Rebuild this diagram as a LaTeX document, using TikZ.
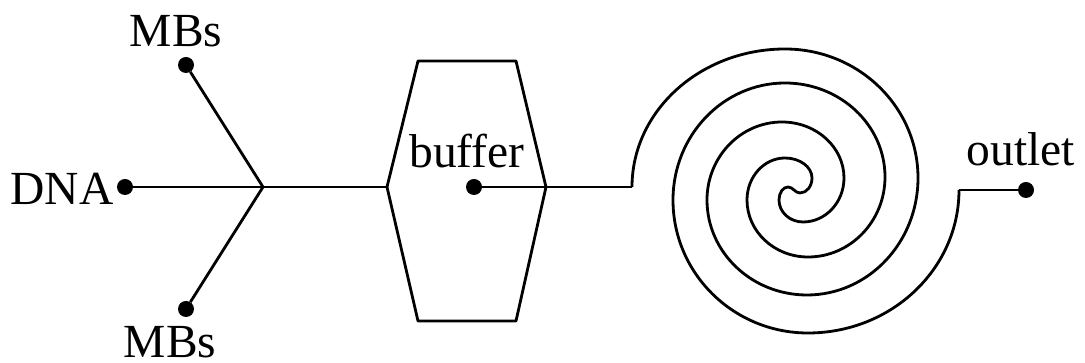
\documentclass[tikz,border=0pt]{standalone}
\usepackage{fontspec}
\setmainfont{Liberation Serif}
\tikzset{
  px/.style={x=1pt,y=1pt},
  wire/.style={line width=2.8pt,black,line join=round},
  port/.style={circle,fill=black,inner sep=0pt,minimum size=16pt},
  lab/.style={anchor=base,inner sep=0pt,font=\fontsize{47.5pt}{50pt}\selectfont},
}
\begin{document}
\begin{tikzpicture}[px]
\useasboundingbox (0,0) rectangle (1085,363);
% junction and ports
\node[port] (mbt) at (186,363-65) {};
\node[port] (dna) at (125,363-187) {};
\node[port] (mbb) at (186,363-309) {};
\node[port] (buf) at (474,363-187) {};
\node[port] (out) at (1026,363-190) {};
\coordinate (j) at (263,363-187);
\coordinate (hl) at (387,363-187);
\coordinate (htl) at (418,363-61);
\coordinate (htr) at (516,363-61);
\coordinate (hr) at (546,363-187);
\coordinate (hbr) at (516,363-321);
\coordinate (hbl) at (418,363-321);
\coordinate (sin) at (632,363-187);
\coordinate (sout) at (959,363-190);
% labels
\node[lab] (l1) at (176,363-47) {MBs};
\node[lab] (l2) at (62,363-205) {DNA};
\node[lab] (l3) at (170,363-358) {MBs};
\node[lab] (l4) at (467,363-168) {buffer};
\node[lab] (l5) at (1021,363-166) {outlet};
% connectors
\draw[wire] (mbt) -- (j);
\draw[wire] (mbb) -- (j);
\draw[wire] (dna) -- (j) -- (hl);
\draw[wire] (hl) -- (htl) -- (htr) -- (hr) -- (hbr) -- (hbl) -- cycle;
\draw[wire] (buf) -- (hr) -- (sin);
\draw[wire] (sout) -- (out);
% double spiral
\draw[wire] (sin)
  arc[start angle=180,end angle=90,x radius=153,y radius=138]
  arc[start angle=90,end angle=0,x radius=133,y radius=129]
  arc[start angle=0,end angle=-90,x radius=111,y radius=117]
  arc[start angle=-90,end angle=-180,x radius=100,y radius=95]
  arc[start angle=180,end angle=90,x radius=75,y radius=78]
  arc[start angle=90,end angle=0,x radius=62,y radius=56]
  arc[start angle=0,end angle=-90,x radius=41,y radius=44]
  arc[start angle=-90,end angle=-180,x radius=24,y radius=22]
  arc[start angle=180,end angle=90,x radius=9,y radius=13]
  .. controls +(5,0) and +(-5,0) .. ++(12,-6)
  arc[start angle=-90,end angle=0,x radius=12,y radius=15]
  arc[start angle=0,end angle=90,x radius=27,y radius=20]
  arc[start angle=90,end angle=180,x radius=38,y radius=42]
  arc[start angle=180,end angle=270,x radius=61,y radius=57]
  arc[start angle=270,end angle=360,x radius=77,y radius=80]
  arc[start angle=0,end angle=90,x radius=100,y radius=94]
  arc[start angle=90,end angle=180,x radius=112,y radius=117]
  arc[start angle=180,end angle=270,x radius=135,y radius=133]
  arc[start angle=270,end angle=360,x radius=151,y radius=143];
\end{tikzpicture}
\end{document}
